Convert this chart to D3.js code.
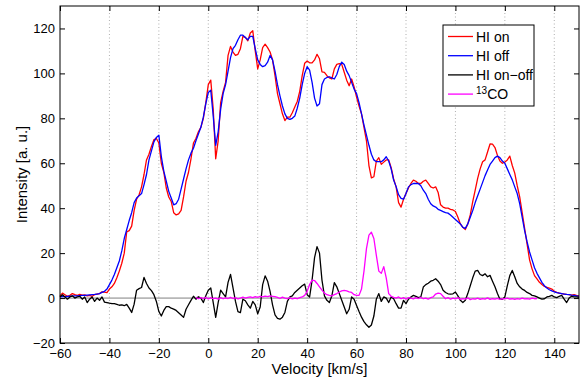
<!DOCTYPE html>
<html>
<head>
<meta charset="utf-8">
<script src="https://cdn.jsdelivr.net/npm/d3@7/dist/d3.min.js"></script>
<style>
  body { margin: 0; background: #fff; }
  svg { font-family: "Liberation Sans", Arial, Helvetica, sans-serif; }
</style>
</head>
<body>
<div id="chart"></div>
<script>
// velocity grid, km/s
const velocity = d3.range(-60, 151);

const hiOn = [
  1.0, 2.2, 1.5, 0.8, 1.2, 2.0, 1.5, 1.2, 1.6, 1.3,
  1.4, 1.0, 1.2, 0.8, 1.5, 1.8, 2.0, 2.8, 2.6, 2.4,
  4.0, 5.0, 6.5, 9.0, 12.0, 15.5, 20.0, 29.5, 30.0, 32.0,
  39.0, 44.0, 46.0, 49.5, 55.0, 61.5, 64.0, 67.5, 70.5, 71.0,
  69.0, 60.0, 56.0, 49.0, 45.0, 43.0, 38.0, 37.0, 37.5, 39.0,
  45.0, 52.0, 56.0, 62.0, 69.0, 71.0, 74.0, 76.0, 80.0, 87.0,
  95.0, 97.0, 84.0, 62.0, 70.0, 87.0, 92.0, 96.0, 108.0, 112.0,
  109.5, 108.0, 108.5, 111.0, 116.5, 116.0, 114.5, 118.0, 119.0, 110.0,
  102.0, 106.0, 111.5, 113.0, 111.5, 109.5, 106.0, 99.0, 91.0, 86.5,
  82.0, 79.0, 80.5, 80.5, 82.5, 85.0, 87.5, 92.0, 99.0, 104.5,
  105.5, 104.7, 104.7, 106.0, 108.5, 106.5, 100.7, 100.5, 99.0, 98.0,
  97.5, 102.0, 104.0, 104.3, 104.0, 100.5, 97.0, 94.5, 97.5, 94.0,
  89.5, 85.5, 82.0, 76.0, 70.0, 59.0, 53.5, 54.0, 61.0, 62.5,
  59.5, 60.5, 61.5, 61.5, 58.0, 53.0, 49.5, 42.5, 40.5, 44.0,
  46.5, 49.0, 51.0, 52.5, 52.0, 51.0, 51.0, 52.0, 52.5, 51.0,
  49.5, 49.0, 49.5, 47.0, 41.5, 40.5, 40.0, 40.0, 39.5, 39.2,
  38.5, 36.0, 33.0, 31.5, 30.5, 33.0, 37.0, 42.9, 48.0, 53.3,
  57.5, 60.7, 61.5, 65.0, 68.6, 68.5, 67.0, 63.5, 61.0, 60.0,
  60.5, 61.5, 63.2, 59.0, 55.6, 50.0, 45.0, 38.0, 31.0, 24.0,
  17.0, 13.0, 10.0, 8.5, 7.0, 6.0, 5.2, 4.8, 4.4, 4.0,
  3.0, 2.5, 2.2, 2.0, 1.8, 1.6, 1.5, 1.3, 1.5, 1.2,
  1.0
];

const hiOff = [
  0.5, 0.6, 0.6, 0.7, 0.8, 0.9, 1.0, 1.0, 1.1, 1.2,
  1.2, 1.3, 1.4, 1.5, 1.6, 1.8, 2.0, 2.5, 3.0, 4.0,
  6.0, 8.0, 10.5, 13.5, 16.5, 21.0, 26.5, 30.5, 34.5, 38.0,
  42.5, 44.5, 45.5, 46.5, 50.5, 55.0, 61.5, 65.5, 69.5, 71.5,
  72.5, 63.0, 56.5, 52.0, 47.5, 44.5, 41.5, 42.0, 44.0, 48.5,
  53.0, 57.5, 61.5, 64.5, 66.7, 70.0, 73.0, 76.0, 80.5, 86.5,
  91.5, 92.5, 81.0, 68.0, 74.0, 84.0, 91.0, 95.0, 101.0, 107.0,
  111.0, 112.5, 115.0, 117.0, 117.0, 116.0, 115.0, 116.5, 116.5, 111.0,
  106.0, 104.0, 103.0, 103.5, 105.0, 108.0, 106.0, 101.0, 95.0, 90.0,
  85.5, 82.0, 80.0, 79.5, 80.0, 81.0, 84.5, 89.0, 95.0, 100.0,
  103.0, 101.5, 96.0, 89.0, 85.5, 86.5, 95.0, 97.5, 98.2, 98.5,
  98.0, 97.5, 99.5, 103.0, 105.0, 104.0, 101.0, 99.0, 96.0, 93.0,
  91.0, 87.0, 82.0, 77.0, 72.5, 68.0, 64.0, 61.5, 60.7, 60.7,
  60.7, 61.5, 62.9, 61.0, 57.5, 52.5, 49.6, 46.0, 44.4, 44.0,
  46.5, 49.5, 50.5, 51.0, 51.0, 51.0, 50.0, 48.0, 46.5, 44.0,
  42.0, 41.0, 40.5, 39.5, 39.0, 38.5, 38.0, 37.8, 37.0, 36.0,
  35.0, 34.0, 33.0, 31.5, 31.0, 33.0, 36.0, 39.0, 42.5, 45.5,
  48.5, 51.5, 54.5, 57.0, 59.5, 61.0, 62.5, 63.2, 62.5, 61.0,
  60.0, 57.5, 55.0, 52.6, 49.5, 46.5, 42.0, 36.0, 30.0, 25.0,
  20.5, 17.0, 13.5, 11.0, 9.0, 7.0, 5.5, 4.5, 3.7, 3.2,
  2.8, 2.4, 2.2, 2.0, 1.8, 1.6, 1.5, 1.3, 1.2, 1.0,
  0.8
];

const hiOnOff = [
  0.5, 1.5, 0.5, -0.5, 0.5, 1.0, 0.0, 0.5, 0.8, -0.5,
  0.5, -2.0, -0.5, 0.5, -1.5, 0.0, -1.0, 0.5, -1.8, -2.0,
  -2.3, -2.5, -2.5, -2.8, -3.2, -3.0, -3.4, -2.8, -4.5, -6.4,
  -2.7, 3.5, 4.2, 4.7, 9.2, 6.5, 4.5, 3.3, 1.5, -1.5,
  -6.0, -8.0, -5.5, -3.8, -3.8, -4.5, -4.9, -5.5, -6.5, -7.5,
  -8.6, -5.0, -3.0, -1.0, 0.8, -0.5, 0.6, 0.0, -2.0, 1.0,
  3.5, 4.5, -2.0, -8.6, -2.0, 3.5, 2.0, 0.5, 7.0, 10.5,
  4.5, -1.5, -6.0, -6.5, -0.5, -1.2, -3.0, -4.5, -1.5, -3.0,
  -7.0, -4.0, 6.0, 9.9, 7.5, 3.0, -3.0, -7.5, -9.0, -9.4,
  -8.5, -6.4, -1.5, 0.5, 1.0, 2.5, 3.5, 4.5, 5.5, 6.2,
  1.5, 0.5, 8.0, 18.0, 22.9, 20.0, 8.0, 1.0, -1.0, -2.0,
  1.0, 6.9, 5.0, 2.0, -1.0, -4.0, -7.0, -5.0, 0.5, -0.5,
  -3.3, -6.0, -8.5, -10.5, -11.9, -13.0, -12.0, -8.0, -0.5, 2.0,
  -1.5, 0.5, 0.0, -2.0, 0.5, -0.3, -2.5, -4.5, -4.5, -1.0,
  -2.5, -0.5, 0.5, 1.2, 0.8, 0.2, 0.5, 4.9, 6.0, 6.6,
  7.5, 7.9, 8.6, 7.5, 6.0, 3.5, 2.5, 1.9, 1.8, 1.9,
  2.7, 1.0, -1.0, -2.0, -1.0, 2.0, 5.5, 9.0, 12.0, 12.3,
  10.5, 10.0, 10.8, 9.5, 10.1, 7.5, 5.0, 2.0, -0.5, -0.5,
  0.5, 5.5, 10.0, 12.3, 9.5, 6.5, 5.0, 4.0, 3.4, 2.5,
  2.0, 1.2, 1.0, 0.5, 0.0, -0.5, -0.3, 0.5, 0.8, 1.2,
  0.5, 0.2, 0.8, 1.2, -0.5, -2.0, 0.0, 0.8, 0.5, 0.5,
  0.3
];

// 13CO only covers part of the band
const coVelocity = d3.range(-5, 134);
const co13 = [
  0.3, -0.3, 0.2, -0.2, 0.3, -0.4, 0.2, -0.3, 0.0, -0.5,
  0.2, -0.3, 0.1, -0.2, 0.3, -0.2, 0.2, -0.4, 0.0, 0.4,
  0.0, 0.3, 0.5, 0.2, 0.6, 0.3, 0.8, 0.5, 0.9, 0.6,
  1.0, 0.8, 0.6, 0.3, -0.2, 0.4, 0.0, -0.3, 0.2, -0.4,
  0.0, -0.3, 0.2, 0.5, 1.2, 3.0, 6.0, 8.0, 7.8, 6.5,
  5.0, 3.5, 2.2, 1.5, 1.2, 1.0, 1.5, 2.0, 2.7, 3.2,
  3.4, 3.2, 2.8, 2.5, 1.5, 1.2, 1.2, 4.0, 12.0, 22.0,
  28.0, 29.3, 26.5, 19.0, 12.0, 11.0, 14.0, 9.0, 2.0, 0.8,
  0.3, 0.0, 0.5, -0.3, 0.2, -0.5, 0.2, 0.0, -0.4, 0.2,
  -0.2, 0.3, -0.3, 0.0, -0.5, 0.2, 0.5, 1.8, 2.2, 2.0,
  0.8, -0.3, 0.2, -0.5, 0.0, -0.4, 0.2, -0.6, -0.2, -0.5,
  0.1, -0.7, -0.3, -0.5, 0.0, -0.6, -0.2, -0.5, 0.1, -0.6,
  -0.3, -0.5, -0.1, -0.6, -0.3, -0.4, 0.0, -0.5, -0.3, -0.6,
  -0.2, -0.5, 0.0, -0.4, -0.2, -0.5, 0.0, -0.3, -0.2
];

const xTicks = [-60, -40, -20, 0, 20, 40, 60, 80, 100, 120, 140];
const yTicks = [-20, 0, 20, 40, 60, 80, 100, 120];
const legendLabels = ['HI on', 'HI off', 'HI on\u2212off', '13CO'];
const seriesColors = ['#ff0000', '#0000ff', '#000000', '#ff00ff'];

const W = 587, H = 381;
const plotLeft = 60, plotRight = 579, plotTop = 6, plotBottom = 343;

const x = d3.scaleLinear().domain([-60, 150]).range([plotLeft, plotRight]);
const y = d3.scaleLinear().domain([-20, 130]).range([plotBottom, plotTop]);
const minus = (d) => String(d).replace('-', '\u2212');

const svg = d3.select('#chart').append('svg')
  .attr('width', W)
  .attr('height', H);

// vertical dotted grid
svg.append('g')
  .selectAll('line')
  .data(xTicks.slice(1))
  .join('line')
  .attr('x1', (d) => x(d)).attr('x2', (d) => x(d))
  .attr('y1', plotTop).attr('y2', plotBottom)
  .attr('stroke', '#9a9a9a')
  .attr('stroke-width', 0.8)
  .attr('stroke-dasharray', '1,2.5');

// zero line
svg.append('line')
  .attr('x1', plotLeft).attr('x2', plotRight)
  .attr('y1', y(0)).attr('y2', y(0))
  .attr('stroke', '#808080')
  .attr('stroke-width', 1);

const line = (xs) => d3.line()
  .x((d, i) => x(xs[i]))
  .y((d) => y(d));

const plot = svg.append('g').attr('fill', 'none').attr('stroke-width', 1.3).attr('stroke-linejoin', 'round');
plot.append('path').attr('d', line(velocity)(hiOn)).attr('stroke', seriesColors[0]);
plot.append('path').attr('d', line(velocity)(hiOff)).attr('stroke', seriesColors[1]);
plot.append('path').attr('d', line(velocity)(hiOnOff)).attr('stroke', seriesColors[2]);
plot.append('path').attr('d', line(coVelocity)(co13)).attr('stroke', seriesColors[3]);

// axes, ticks inward on all four sides
const styleAxis = (g) => {
  g.select('.domain').remove();
  g.selectAll('.tick line').attr('stroke', '#000');
  g.selectAll('.tick text').attr('fill', '#000').style('font-size', '13px');
};

svg.append('g')
  .attr('transform', `translate(0,${plotBottom})`)
  .call(d3.axisBottom(x).tickValues(xTicks).tickSizeInner(-5).tickSizeOuter(0).tickPadding(6).tickFormat(minus))
  .call(styleAxis);
svg.append('g')
  .attr('transform', `translate(0,${plotTop})`)
  .call(d3.axisTop(x).tickValues(xTicks).tickSizeInner(-5).tickSizeOuter(0).tickFormat(''))
  .call(styleAxis);
svg.append('g')
  .attr('transform', `translate(${plotLeft},0)`)
  .call(d3.axisLeft(y).tickValues(yTicks).tickSizeInner(-5).tickSizeOuter(0).tickPadding(5).tickFormat(minus))
  .call(styleAxis);
svg.append('g')
  .attr('transform', `translate(${plotRight},0)`)
  .call(d3.axisRight(y).tickValues(yTicks).tickSizeInner(-5).tickSizeOuter(0).tickFormat(''))
  .call(styleAxis);

svg.append('rect')
  .attr('x', plotLeft).attr('y', plotTop)
  .attr('width', plotRight - plotLeft).attr('height', plotBottom - plotTop)
  .attr('fill', 'none').attr('stroke', '#000').attr('stroke-width', 1);

// axis labels
svg.append('text')
  .attr('x', (plotLeft + plotRight) / 2).attr('y', 374)
  .attr('text-anchor', 'middle')
  .style('font-size', '15px')
  .text('Velocity [km/s]');
svg.append('text')
  .attr('transform', `translate(27,${(plotTop + plotBottom) / 2}) rotate(-90)`)
  .attr('text-anchor', 'middle')
  .style('font-size', '15px')
  .text('Intensity [a. u.]');

// legend
const legend = svg.append('g').attr('transform', 'translate(443,25)');
legend.append('rect')
  .attr('width', 91).attr('height', 81)
  .attr('fill', '#fff').attr('stroke', '#000').attr('stroke-width', 1);

const rows = legend.selectAll('g.row')
  .data(legendLabels)
  .join('g')
  .attr('class', 'row')
  .attr('transform', (d, i) => `translate(0,${11.5 + i * 19.2})`);
rows.append('line')
  .attr('x1', 5).attr('x2', 30)
  .attr('stroke', (d, i) => seriesColors[i])
  .attr('stroke-width', 1.3);
rows.append('text')
  .attr('x', 33).attr('y', 5)
  .style('font-size', '14px')
  .each(function (d) {
    const t = d3.select(this);
    if (d === '13CO') {
      t.append('tspan').attr('dy', -5).style('font-size', '10px').text('13');
      t.append('tspan').attr('dy', 5).text('CO');
    } else {
      t.text(d);
    }
  });
</script>
</body>
</html>
